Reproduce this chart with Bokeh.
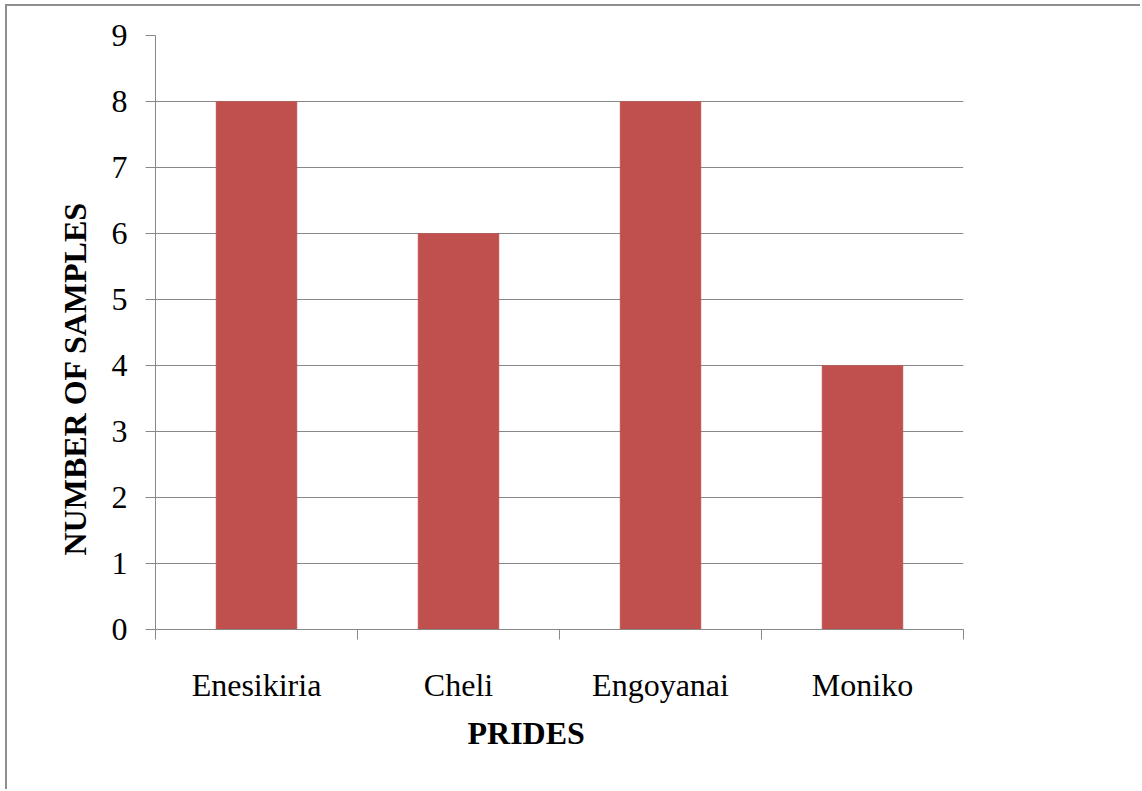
from bokeh.plotting import figure
from bokeh.models import Range1d, FixedTicker, Title
from bokeh.embed import file_html
from bokeh.resources import INLINE

categories = ["Enesikiria", "Cheli", "Engoyanai", "Moniko"]
samples = [8, 6, 8, 4]
y_ticks = [0, 1, 2, 3, 4, 5, 6, 7, 8, 9]

FONT = "Liberation Serif"
SIZE = "32px"
GRAY = "#888888"
BAR = "#C0504D"

positions = [i + 0.5 for i in range(len(categories))]
boundaries = list(range(len(categories) + 1))

p = figure(width=1135, height=785, output_backend="svg", toolbar_location=None,
           x_range=Range1d(0, len(categories)), y_range=Range1d(0, 9),
           min_border_left=148, min_border_right=179, min_border_top=29, min_border_bottom=162,
           background_fill_color="white", border_fill_color="white")
p.styles = {"margin-top": "4px", "margin-left": "5px",
            "border-top": "2px solid #8f8f8f", "border-left": "2px solid #8f8f8f"}
p.outline_line_color = None

p.vbar(x=positions, top=samples, width=0.4, bottom=0, fill_color=BAR, line_color=BAR, line_width=0.5)

# x axis
xa = p.xaxis[0]
xa.ticker = FixedTicker(ticks=positions, minor_ticks=boundaries)
xa.major_label_overrides = {pos: c for pos, c in zip(positions, categories)}
xa.major_tick_line_color = None
xa.major_tick_out = 0
xa.major_tick_in = 0
xa.minor_tick_line_color = GRAY
xa.minor_tick_out = 10
xa.minor_tick_in = 0
xa.axis_line_color = GRAY
xa.major_label_text_font = FONT
xa.major_label_text_font_size = SIZE
xa.major_label_text_color = "black"
xa.major_label_standoff = 27

# y axis
ya = p.yaxis[0]
ya.ticker = FixedTicker(ticks=y_ticks)
ya.major_tick_line_color = GRAY
ya.major_tick_out = 10
ya.major_tick_in = 0
ya.minor_tick_line_color = None
ya.axis_line_color = GRAY
ya.major_label_text_font = FONT
ya.major_label_text_font_size = SIZE
ya.major_label_text_color = "black"
ya.major_label_standoff = 18

p.xgrid.grid_line_color = None
p.ygrid.grid_line_color = GRAY
p.ygrid.ticker = FixedTicker(ticks=y_ticks)

p.add_layout(Title(text="PRIDES", align="left", offset=312, standoff=15,
                   text_font=FONT, text_font_size=SIZE, text_font_style="bold",
                   text_color="black"), "below")
p.add_layout(Title(text="NUMBER OF SAMPLES", align="left", offset=74, standoff=32,
                   text_font=FONT, text_font_size=SIZE, text_font_style="bold",
                   text_color="black"), "left")

open("out.html", "w").write(file_html(p, INLINE))
